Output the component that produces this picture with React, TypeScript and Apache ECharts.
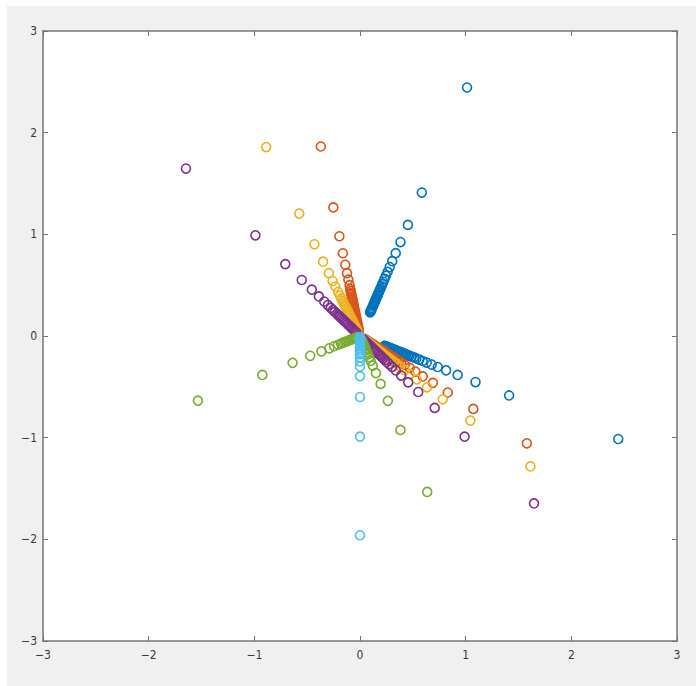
import React, { useEffect, useRef } from "react";
import * as echarts from "echarts";

const TICK_VALUES = [-3, -2, -1, 0, 1, 2, 3];
const X_TICK_LABELS = ["\u22123", "\u22122", "\u22121", "0", "1", "2", "3"];
const Y_TICK_LABELS = ["\u22123", "\u22122", "\u22121", "0", "1", "2", "3"];

const BLUE_UP: number[][] = [
  [1.013, 2.444], [0.585, 1.411], [0.453, 1.093], [0.383, 0.924], [0.338, 0.815],
  [0.305, 0.736], [0.281, 0.678], [0.262, 0.631], [0.246, 0.593], [0.232, 0.561],
  [0.221, 0.533], [0.211, 0.51], [0.203, 0.489], [0.195, 0.47], [0.188, 0.454],
  [0.182, 0.439], [0.176, 0.425], [0.171, 0.413], [0.167, 0.402], [0.162, 0.392],
  [0.154, 0.372], [0.148, 0.357], [0.142, 0.342], [0.137, 0.33], [0.132, 0.318],
  [0.126, 0.303], [0.12, 0.29], [0.114, 0.275], [0.109, 0.262], [0.104, 0.25],
  [0.1, 0.241], [0.096, 0.232],
];
const BLUE_DOWN: number[][] = [
  [2.444, -1.013], [1.411, -0.585], [1.093, -0.453], [0.924, -0.383], [0.815, -0.338],
  [0.736, -0.305], [0.678, -0.281], [0.631, -0.262], [0.593, -0.246], [0.561, -0.232],
  [0.533, -0.221], [0.51, -0.211], [0.489, -0.203], [0.47, -0.195], [0.454, -0.188],
  [0.439, -0.182], [0.425, -0.176], [0.413, -0.171], [0.402, -0.167], [0.392, -0.162],
  [0.372, -0.154], [0.357, -0.148], [0.342, -0.142], [0.33, -0.137], [0.318, -0.132],
  [0.303, -0.126], [0.29, -0.12], [0.275, -0.114], [0.262, -0.109], [0.25, -0.104],
  [0.241, -0.1], [0.232, -0.096],
];

const ORANGE_UP: number[][] = [
  [-0.371, 1.864], [-0.252, 1.265], [-0.195, 0.981], [-0.162, 0.814], [-0.139, 0.701],
  [-0.123, 0.618], [-0.11, 0.554], [-0.099, 0.5], [-0.092, 0.461], [-0.088, 0.441],
  [-0.084, 0.422], [-0.08, 0.402], [-0.076, 0.383], [-0.072, 0.363], [-0.068, 0.343],
  [-0.064, 0.324], [-0.06, 0.304], [-0.057, 0.284], [-0.053, 0.265], [-0.049, 0.245],
  [-0.045, 0.226], [-0.041, 0.206], [-0.037, 0.186], [-0.033, 0.167], [-0.029, 0.147],
  [-0.025, 0.128], [-0.021, 0.108], [-0.018, 0.088], [-0.014, 0.069], [-0.01, 0.049],
];
const ORANGE_DOWN: number[][] = [
  [1.579, -1.056], [1.072, -0.717], [0.831, -0.556], [0.69, -0.461], [0.594, -0.398],
  [0.524, -0.35], [0.47, -0.314], [0.424, -0.284], [0.391, -0.261], [0.374, -0.25],
  [0.357, -0.239], [0.341, -0.228], [0.324, -0.217], [0.307, -0.206], [0.291, -0.195],
  [0.274, -0.183], [0.258, -0.172], [0.241, -0.161], [0.224, -0.15], [0.208, -0.139],
  [0.191, -0.128], [0.175, -0.117], [0.158, -0.106], [0.141, -0.095], [0.125, -0.083],
  [0.108, -0.072], [0.091, -0.061], [0.075, -0.05], [0.058, -0.039], [0.042, -0.028],
];

const YELLOW_UP: number[][] = [
  [-0.888, 1.858], [-0.575, 1.204], [-0.431, 0.902], [-0.349, 0.731], [-0.295, 0.618],
  [-0.259, 0.541], [-0.233, 0.487], [-0.207, 0.433], [-0.19, 0.397], [-0.177, 0.37],
  [-0.164, 0.343], [-0.155, 0.325], [-0.147, 0.307], [-0.138, 0.289], [-0.129, 0.271],
  [-0.121, 0.253], [-0.112, 0.235], [-0.103, 0.216], [-0.095, 0.198], [-0.086, 0.18],
  [-0.078, 0.162], [-0.069, 0.144], [-0.06, 0.126], [-0.052, 0.108], [-0.043, 0.09],
  [-0.034, 0.072], [-0.026, 0.054],
];
const YELLOW_DOWN: number[][] = [
  [1.613, -1.283], [1.045, -0.832], [0.783, -0.623], [0.634, -0.505], [0.536, -0.427],
  [0.47, -0.374], [0.423, -0.336], [0.376, -0.299], [0.345, -0.274], [0.321, -0.255],
  [0.298, -0.237], [0.282, -0.224], [0.266, -0.212], [0.251, -0.199], [0.235, -0.187],
  [0.219, -0.174], [0.204, -0.162], [0.188, -0.15], [0.172, -0.137], [0.157, -0.125],
  [0.141, -0.112], [0.125, -0.1], [0.11, -0.087], [0.094, -0.075], [0.078, -0.062],
  [0.063, -0.05], [0.047, -0.037],
];

const PURPLE_UP: number[][] = [
  [-1.647, 1.647], [-0.99, 0.99], [-0.707, 0.707], [-0.551, 0.551], [-0.456, 0.456],
  [-0.389, 0.389], [-0.339, 0.339], [-0.304, 0.304], [-0.276, 0.276], [-0.255, 0.255],
  [-0.237, 0.237], [-0.219, 0.219], [-0.205, 0.205], [-0.191, 0.191], [-0.177, 0.177],
  [-0.163, 0.163], [-0.148, 0.148], [-0.134, 0.134], [-0.12, 0.12], [-0.106, 0.106],
  [-0.092, 0.092], [-0.078, 0.078], [-0.064, 0.064], [-0.049, 0.049], [-0.035, 0.035],
];
const PURPLE_DOWN: number[][] = [
  [1.647, -1.647], [0.99, -0.99], [0.707, -0.707], [0.551, -0.551], [0.456, -0.456],
  [0.389, -0.389], [0.339, -0.339], [0.304, -0.304], [0.276, -0.276], [0.255, -0.255],
  [0.237, -0.237], [0.219, -0.219], [0.205, -0.205], [0.191, -0.191], [0.177, -0.177],
  [0.163, -0.163], [0.148, -0.148], [0.134, -0.134], [0.12, -0.12], [0.106, -0.106],
  [0.092, -0.092], [0.078, -0.078], [0.064, -0.064], [0.049, -0.049], [0.035, -0.035],
];

const GREEN_LEFT: number[][] = [
  [-1.534, -0.636], [-0.924, -0.383], [-0.638, -0.264], [-0.471, -0.195], [-0.365, -0.151],
  [-0.291, -0.121], [-0.245, -0.101], [-0.208, -0.086], [-0.18, -0.075], [-0.157, -0.065],
  [-0.139, -0.057], [-0.12, -0.05], [-0.106, -0.044], [-0.092, -0.038], [-0.079, -0.033],
  [-0.065, -0.027], [-0.051, -0.021], [-0.037, -0.015],
];
const GREEN_DOWN: number[][] = [
  [0.636, -1.534], [0.383, -0.924], [0.264, -0.638], [0.195, -0.471], [0.151, -0.365],
  [0.121, -0.291], [0.101, -0.245], [0.086, -0.208], [0.075, -0.18], [0.065, -0.157],
  [0.057, -0.139], [0.05, -0.12], [0.044, -0.106], [0.038, -0.092], [0.033, -0.079],
  [0.027, -0.065], [0.021, -0.051], [0.015, -0.037],
];

const CYAN_DOWN: number[][] = [
  [0, -1.96], [0, -0.99], [0, -0.6], [0, -0.395], [0, -0.3], [0, -0.25], [0, -0.21],
  [0, -0.18], [0, -0.155], [0, -0.135], [0, -0.115], [0, -0.1], [0, -0.085], [0, -0.07],
  [0, -0.055], [0, -0.04], [0, -0.025], [0, -0.01],
];

const SERIES = [
  { name: "s1", color: "#0072BD", data: [...BLUE_UP, ...BLUE_DOWN] },
  { name: "s2", color: "#D95319", data: [...ORANGE_UP, ...ORANGE_DOWN] },
  { name: "s3", color: "#EDB120", data: [...YELLOW_UP, ...YELLOW_DOWN] },
  { name: "s4", color: "#7E2F8E", data: [...PURPLE_UP, ...PURPLE_DOWN] },
  { name: "s5", color: "#77AC30", data: [...GREEN_LEFT, ...GREEN_DOWN] },
  { name: "s6", color: "#4DBEEE", data: [...CYAN_DOWN] },
];

const FONT = "'Liberation Sans Narrow', 'DejaVu Sans Condensed', 'Liberation Sans', sans-serif";
const AXIS_COLOR = "#757575";

export default function App() {
  const ref = useRef<HTMLDivElement>(null);
  useEffect(() => {
    if (!ref.current) return;
    const chart = echarts.init(ref.current, undefined, { renderer: "svg" });
    const fmt = (labels: string[]) => (v: number) => {
      const i = TICK_VALUES.indexOf(Math.round(v));
      return i >= 0 ? labels[i] : "";
    };
    const axisCommon = {
      type: "value" as const,
      min: -3,
      max: 3,
      interval: 1,
      splitLine: { show: false },
      axisLine: { show: true, onZero: false, lineStyle: { color: AXIS_COLOR, width: 1.5 } },
      axisTick: { show: true, inside: true, length: 5, lineStyle: { color: AXIS_COLOR, width: 1 } },
    };
    chart.setOption({
      animation: false,
      backgroundColor: "#f0f0f0",
      grid: {
        left: 36,
        top: 25,
        width: 634,
        height: 610,
        show: true,
        backgroundColor: "#ffffff",
        borderWidth: 0,
      },
      xAxis: [
        {
          ...axisCommon,
          position: "bottom",
          axisLabel: {
            show: true,
            margin: 8,
            color: "#3a3a3a",
            fontSize: 12,
            fontFamily: FONT,
            formatter: fmt(X_TICK_LABELS),
          },
        },
        { ...axisCommon, position: "top", axisLabel: { show: false } },
      ],
      yAxis: [
        {
          ...axisCommon,
          position: "left",
          axisLabel: {
            show: true,
            margin: 6,
            color: "#3a3a3a",
            fontSize: 12,
            fontFamily: FONT,
            formatter: fmt(Y_TICK_LABELS),
          },
        },
        { ...axisCommon, position: "right", axisLabel: { show: false } },
      ],
      series: SERIES.map((s) => ({
        type: "scatter",
        name: s.name,
        xAxisIndex: 0,
        yAxisIndex: 0,
        silent: true,
        symbol: "circle",
        symbolSize: 9,
        itemStyle: { color: "rgba(0,0,0,0)", borderColor: s.color, borderWidth: 1.6, opacity: 1 },
        data: s.data,
      })),
    });
    return () => chart.dispose();
  }, []);
  return (
    <div
      style={{
        position: "absolute",
        left: 7,
        top: 6,
        width: 689,
        height: 680,
        background: "#f0f0f0",
      }}
    >
      <div ref={ref} style={{ width: 689, height: 680 }} />
    </div>
  );
}
